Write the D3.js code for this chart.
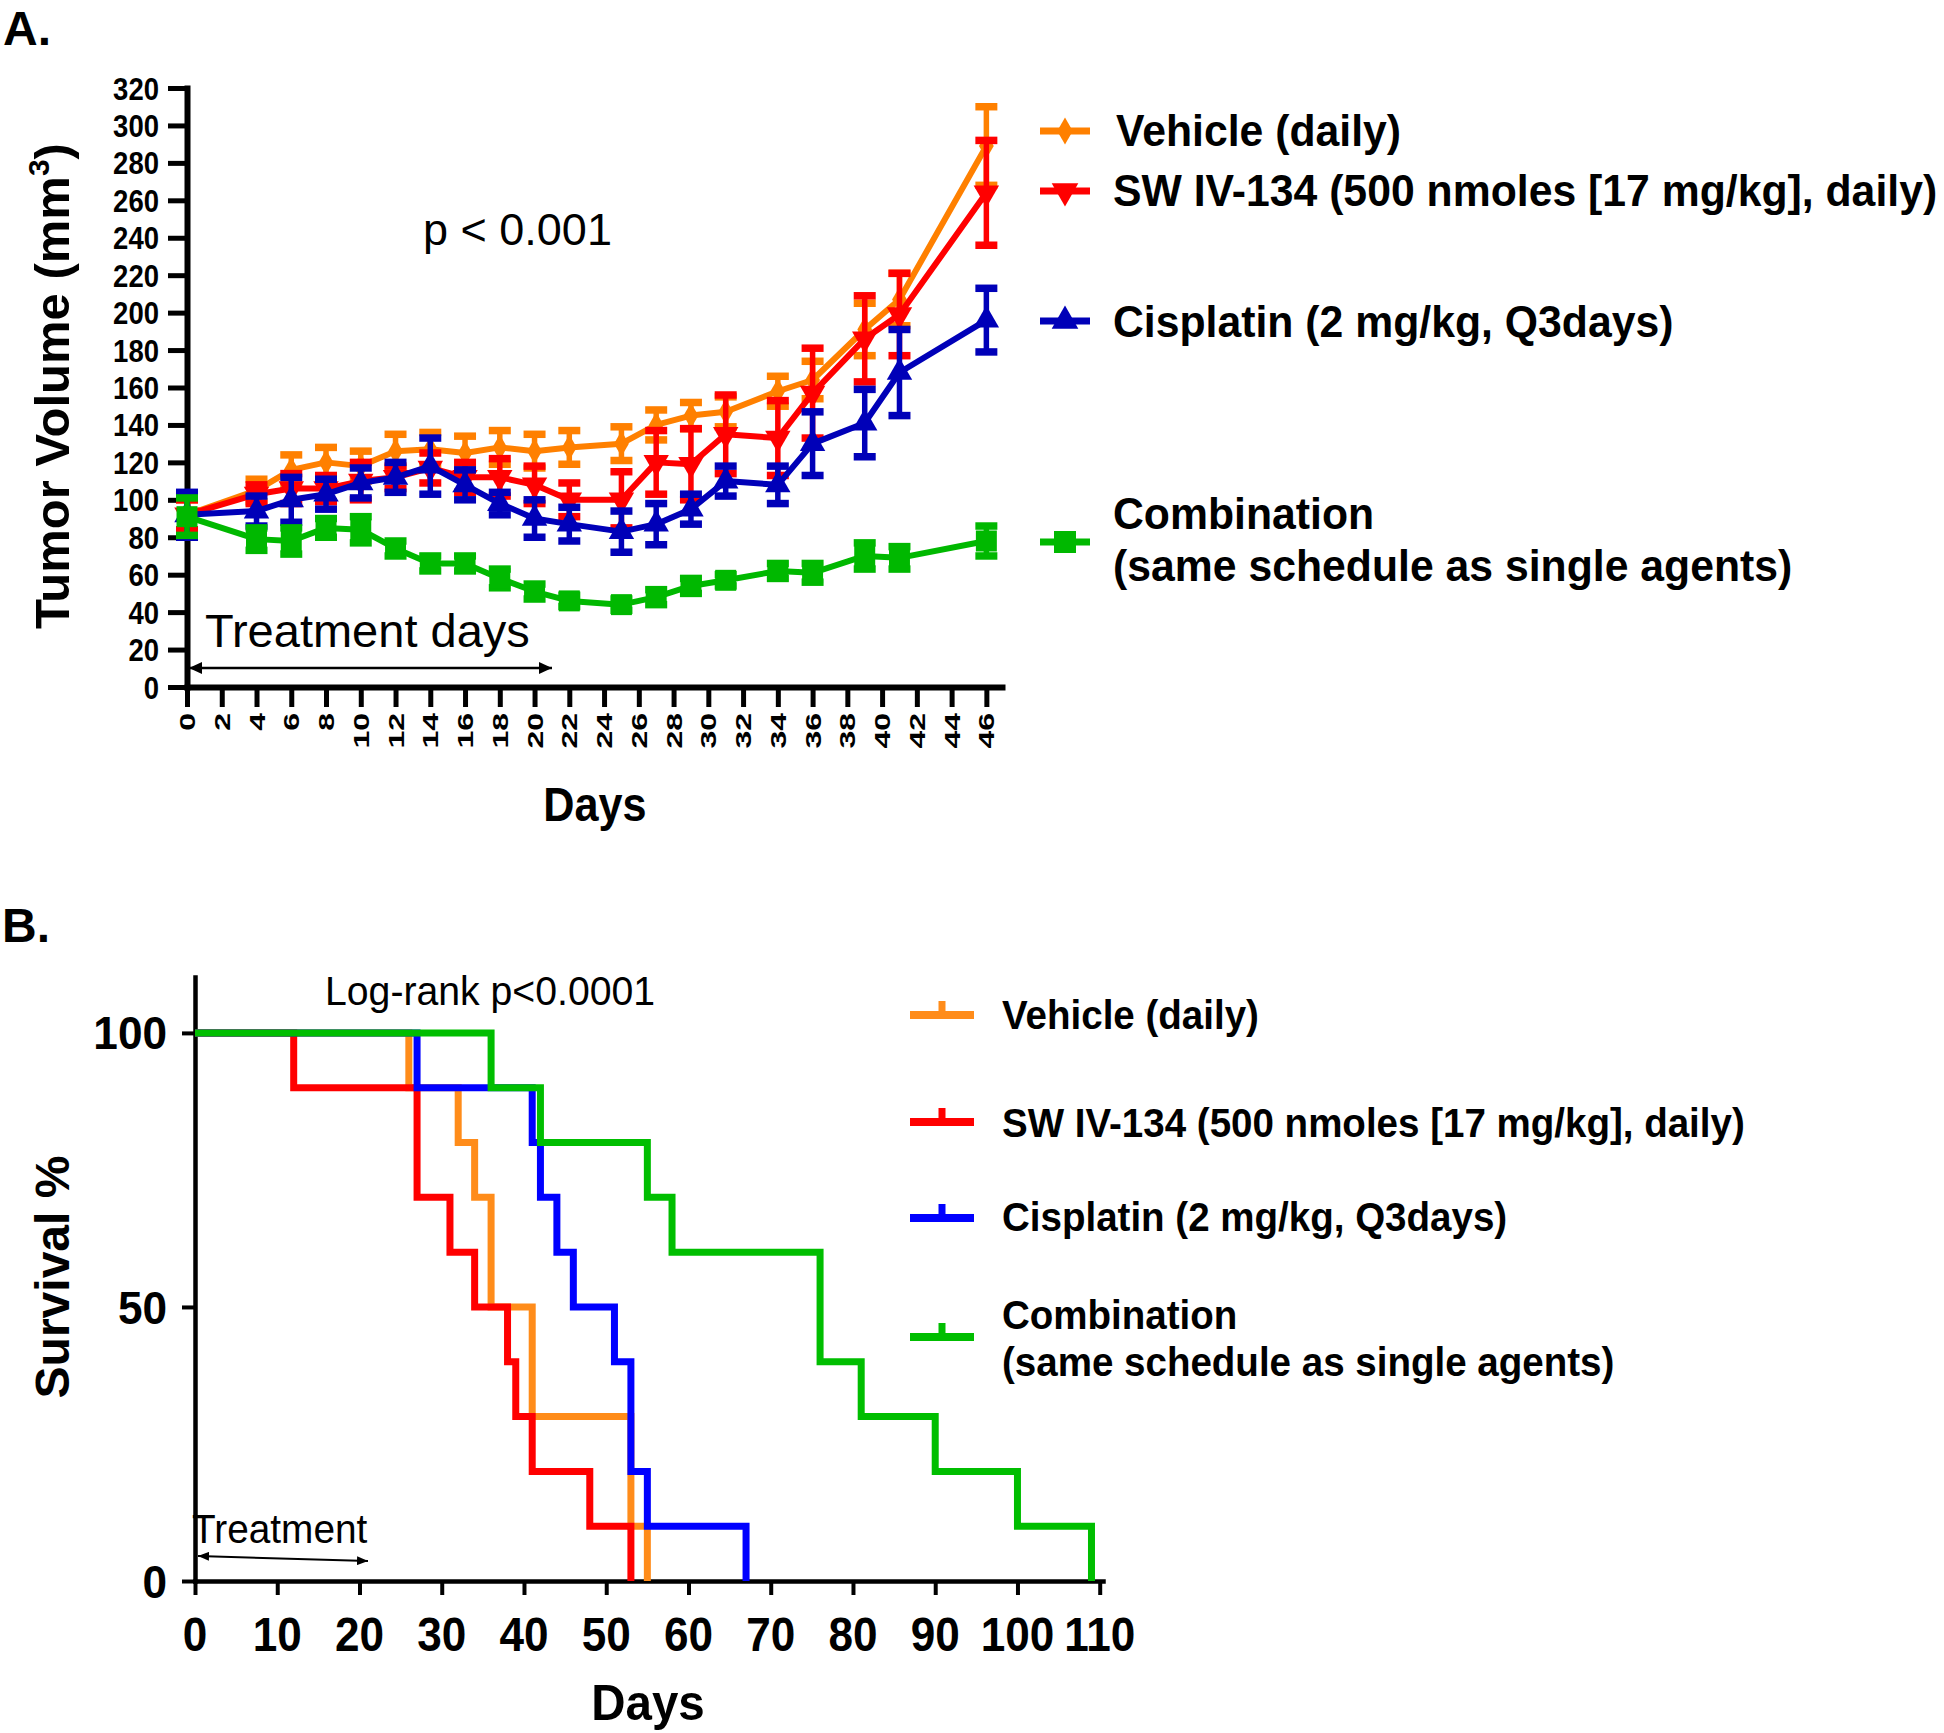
<!DOCTYPE html>
<html><head><meta charset="utf-8">
<script src="https://cdn.jsdelivr.net/npm/d3@7"></script>
<style>
body{margin:0;background:#fff}
svg{display:block}
text{font-family:"Liberation Sans",Arial,Helvetica,sans-serif;fill:#000}
</style>
</head><body>
<svg id="chart" width="1944" height="1733"></svg>
<script>
// ---------- DATA: panel A (tumor volume, mean ± SEM) ----------
const days = [0,4,6,8,10,12,14,16,18,20,22,25,27,29,31,34,36,39,41,46];
const vehicleMean = [92,105,116,120,118,126,127,125,128,126,128,130,140,145,147,158,164,191,207,289];
const vehicleSem  = [8,6,8,8,8,9,9,9,9,9,9,9,8,7,8,8,10,14,14,21];
const swMean = [92,103,106,106,110,112,117,112,112,108,100,100,120,119,135,133,157,186,199,264];
const swSem  = [8,5,8,7,10,6,8,8,10,10,9,15,17,19,21,20,24,23,22,28];
const cisMean = [92,94,100,103,109,112,118,108,98,90,87,83,87,95,110,108,130,141,168,196];
const cisSem  = [12,8,12,8,8,8,15,8,6,10,9,11,11,8,8,10,17,18,23,17];
const comboMean = [91,79,78,85,84,74,66,66,58,51,46,44,48,54,57,62,61,70,69,78];
const comboSem  = [10,6,7,5,7,4,4,4,5,4,3,3,4,4,3,4,5,7,6,8];
const yTicksA = d3.range(0, 321, 20);
const xTicksA = d3.range(0, 47, 2);

// ---------- DATA: panel B (Kaplan-Meier survival) ----------
const vehicleKM = {t:[0,26,32,34,36,41,53,55], s:[100,90,80,70,50,30,10,0]};
const swKM      = {t:[0,12,27,31,34,38,39,41,48,53], s:[100,90,70,60,50,40,30,20,10,0]};
const cisKM     = {t:[0,27,41,42,44,46,51,53,55,67], s:[100,90,80,70,60,50,40,20,10,0]};
const comboKM   = {t:[0,36,42,55,58,76,81,90,100,109], s:[100,90,80,70,60,40,30,20,10,0]};
const yTicksB = [0,50,100];
const xTicksB = d3.range(0, 111, 10);

const labels = ["Vehicle (daily)", "SW IV-134 (500 nmoles [17 mg/kg], daily)", "Cisplatin (2 mg/kg, Q3days)", "Combination", "(same schedule as single agents)"];

const svg = d3.select("#chart");

function txt(g, x, y, s, o = {}) {
  const t = g.append("text")
    .attr("transform", `translate(${x},${y}) rotate(${o.r || 0}) scale(${o.sx || 1},${o.sy || 1})`)
    .attr("font-size", o.size || 40)
    .attr("font-weight", o.w || 700)
    .attr("text-anchor", o.anchor || "start")
    .text(s);
  if (o.dy) t.attr("dy", o.dy);
  return t;
}

// ================= PANEL A =================
const xA = d3.scaleLinear().domain([0, 46.9]).range([187, 1002]);
const yA = d3.scaleLinear().domain([0, 320]).range([687, 88]);
const gA = svg.append("g");

txt(gA, 3, 45, "A.", {size: 48, sx: 1.0});

// axes
const axL = gA.append("g").attr("transform", `translate(${xA(0)},0)`)
  .call(d3.axisLeft(yA).tickValues(yTicksA).tickSize(19).tickSizeOuter(0).tickFormat(""));
const axB = gA.append("g").attr("transform", `translate(0,${yA(0)})`)
  .call(d3.axisBottom(xA).tickValues(xTicksA).tickSize(20).tickSizeOuter(0).tickFormat(""));
[axL, axB].forEach(a => {
  a.select(".domain").attr("stroke", "#000").attr("stroke-width", 6).attr("stroke-linecap", "square");
  a.selectAll(".tick line").attr("stroke", "#000").attr("stroke-width", 5);
});
yTicksA.forEach(v => txt(gA, 159, yA(v), String(v), {size: 32, sx: 0.86, anchor: "end", dy: "0.36em"}));
xTicksA.forEach(v => txt(gA, xA(v), 713, String(v), {size: 32, r: -90, sy: 0.7, anchor: "end", dy: "0.36em"}));

// axis titles
const yt = txt(gA, 69, 386, "", {size: 49, r: -90, anchor: "middle"});
yt.append("tspan").text("Tumor Volume (mm");
yt.append("tspan").attr("font-size", 30).attr("dy", -20).text("3");
yt.append("tspan").attr("dy", 20).text(")");
txt(gA, 595, 821, "Days", {size: 48, sx: 0.9, anchor: "middle"});

txt(gA, 423, 245, "p < 0.001", {size: 45, w: 400});
txt(gA, 205, 647, "Treatment days", {size: 47, w: 400});

// arrow markers
const defs = svg.append("defs");
function arrowDef(id, len, wid) {
  defs.append("marker").attr("id", id).attr("viewBox", `0 0 ${len} ${wid}`)
    .attr("refX", len).attr("refY", wid / 2).attr("markerWidth", len).attr("markerHeight", wid)
    .attr("markerUnits", "userSpaceOnUse").attr("orient", "auto-start-reverse")
    .append("path").attr("d", `M0,0L${len},${wid/2}L0,${wid}Z`).attr("fill", "#000");
}
arrowDef("arrA", 13, 12);
arrowDef("arrB", 11, 9);
gA.append("line").attr("x1", xA(0) + 2).attr("x2", 552).attr("y1", 668).attr("y2", 668)
  .attr("stroke", "#000").attr("stroke-width", 2.5)
  .attr("marker-start", "url(#arrA)").attr("marker-end", "url(#arrA)");

// series
const seriesA = [
  {mean: vehicleMean, sem: vehicleSem, color: "#FF8000", sym: d3.symbolDiamond, size: 190, rot: 0},
  {mean: swMean, sem: swSem, color: "#FF0000", sym: d3.symbolTriangle, size: 280, rot: 180},
  {mean: cisMean, sem: cisSem, color: "#0000B8", sym: d3.symbolTriangle, size: 280, rot: 0},
  {mean: comboMean, sem: comboSem, color: "#00B800", sym: d3.symbolSquare, size: 440, rot: 0}
];
const lineA = d3.line().x(d => xA(d[0])).y(d => yA(d[1]));
seriesA.forEach(s => {
  const pts = days.map((d, i) => [d, s.mean[i], s.sem[i]]);
  const g = gA.append("g");
  g.append("path").attr("d", lineA(pts)).attr("fill", "none").attr("stroke", s.color)
    .attr("stroke-width", 6).attr("stroke-linejoin", "round");
  const eb = g.selectAll(".eb").data(pts).join("g");
  eb.append("line").attr("x1", d => xA(d[0])).attr("x2", d => xA(d[0]))
    .attr("y1", d => yA(d[1] - d[2])).attr("y2", d => yA(d[1] + d[2]))
    .attr("stroke", s.color).attr("stroke-width", 5.5);
  [-1, 1].forEach(k => eb.append("line")
    .attr("x1", d => xA(d[0]) - 11).attr("x2", d => xA(d[0]) + 11)
    .attr("y1", d => yA(d[1] + k * d[2])).attr("y2", d => yA(d[1] + k * d[2]))
    .attr("stroke", s.color).attr("stroke-width", 7.5));
  g.selectAll(".mk").data(pts).join("path")
    .attr("transform", d => `translate(${xA(d[0])},${yA(d[1])}) rotate(${s.rot})`)
    .attr("d", d3.symbol(s.sym, s.size)).attr("fill", s.color);
});

// legend A
const legA = [
  {y: 131, ty: 146, tx: 1116, lines: [labels[0]]},
  {y: 191, ty: 206, tx: 1113, lines: [labels[1]]},
  {y: 321, ty: 337, tx: 1113, lines: [labels[2]]},
  {y: 542, ty: 529, tx: 1113, lines: [labels[3], labels[4]]}
];
legA.forEach((L, i) => {
  const s = seriesA[i];
  const g = gA.append("g").attr("transform", `translate(1065,${L.y})`);
  g.append("line").attr("x1", -25).attr("x2", 25).attr("stroke", s.color).attr("stroke-width", 7);
  g.append("path").attr("transform", `rotate(${s.rot})`).attr("d", d3.symbol(s.sym, s.size * 1.1)).attr("fill", s.color);
  L.lines.forEach((ln, j) => txt(gA, L.tx, L.ty + j * 52, ln, {size: 45, sx: 0.95}));
});

// ================= PANEL B =================
const xB = d3.scaleLinear().domain([0, 110.4]).range([195, 1103]);
const yB = d3.scaleLinear().domain([0, 110.2]).range([1581, 977]);
const gB = svg.append("g");

txt(gB, 2, 942, "B.", {size: 48, sx: 1.0});

const bL = gB.append("g").attr("transform", `translate(${xB(0)},0)`)
  .call(d3.axisLeft(yB).tickValues(yTicksB).tickSize(13).tickSizeOuter(0).tickFormat(""));
const bB = gB.append("g").attr("transform", `translate(0,${yB(0)})`)
  .call(d3.axisBottom(xB).tickValues(xTicksB).tickSize(14).tickSizeOuter(0).tickFormat(""));
[bL, bB].forEach(a => {
  a.select(".domain").attr("stroke", "#000").attr("stroke-width", 4.5).attr("stroke-linecap", "square");
  a.selectAll(".tick line").attr("stroke", "#000").attr("stroke-width", 4);
});
yTicksB.forEach(v => txt(gB, 167, yB(v), String(v), {size: 46, sx: 0.96, anchor: "end", dy: "0.36em"}));
xTicksB.forEach(v => txt(gB, xB(v), 1651, String(v), {size: 49, sx: 0.9, anchor: "middle"}));

txt(gB, 648, 1720, "Days", {size: 50, sx: 0.95, anchor: "middle"});
txt(gB, 69, 1277, "Survival %", {size: 48, r: -90, anchor: "middle"});
txt(gB, 325, 1005, "Log-rank p<0.0001", {size: 40, w: 400, sx: 0.98});
txt(gB, 192, 1543, "Treatment", {size: 40, w: 400, sx: 0.97});
gB.append("line").attr("x1", 198).attr("y1", 1556).attr("x2", 368).attr("y2", 1561)
  .attr("stroke", "#000").attr("stroke-width", 2)
  .attr("marker-start", "url(#arrB)").attr("marker-end", "url(#arrB)");

const seriesB = [
  {km: vehicleKM, color: "#FF8C1A"},
  {km: swKM, color: "#FF0000"},
  {km: cisKM, color: "#0000FF"},
  {km: comboKM, color: "#00BE00"}
];
const lineB = d3.line().x(d => xB(d[0])).y(d => yB(d[1])).curve(d3.curveStepAfter);
seriesB.forEach(s => {
  const pts = s.km.t.map((t, i) => [t, s.km.s[i]]);
  gB.append("path").attr("d", lineB(pts)).attr("fill", "none").attr("stroke", s.color)
    .attr("stroke-width", 7).attr("stroke-linejoin", "miter");
});

// legend B
const legB = [
  {y: 1015, ty: 1029, lines: [labels[0]]},
  {y: 1122, ty: 1137, lines: [labels[1]]},
  {y: 1218, ty: 1231, lines: [labels[2]]},
  {y: 1337, ty: 1329, lines: [labels[3], labels[4]]}
];
legB.forEach((L, i) => {
  const s = seriesB[i];
  const g = gB.append("g").attr("transform", `translate(942,${L.y})`);
  g.append("line").attr("x1", -32).attr("x2", 32).attr("stroke", s.color).attr("stroke-width", 8);
  g.append("line").attr("x1", 0).attr("x2", 0).attr("y1", 0).attr("y2", -14).attr("stroke", s.color).attr("stroke-width", 7);
  L.lines.forEach((ln, j) => txt(gB, 1002, L.ty + j * 47, ln, {size: 41, sx: 0.94}));
});
</script>
</body></html>
